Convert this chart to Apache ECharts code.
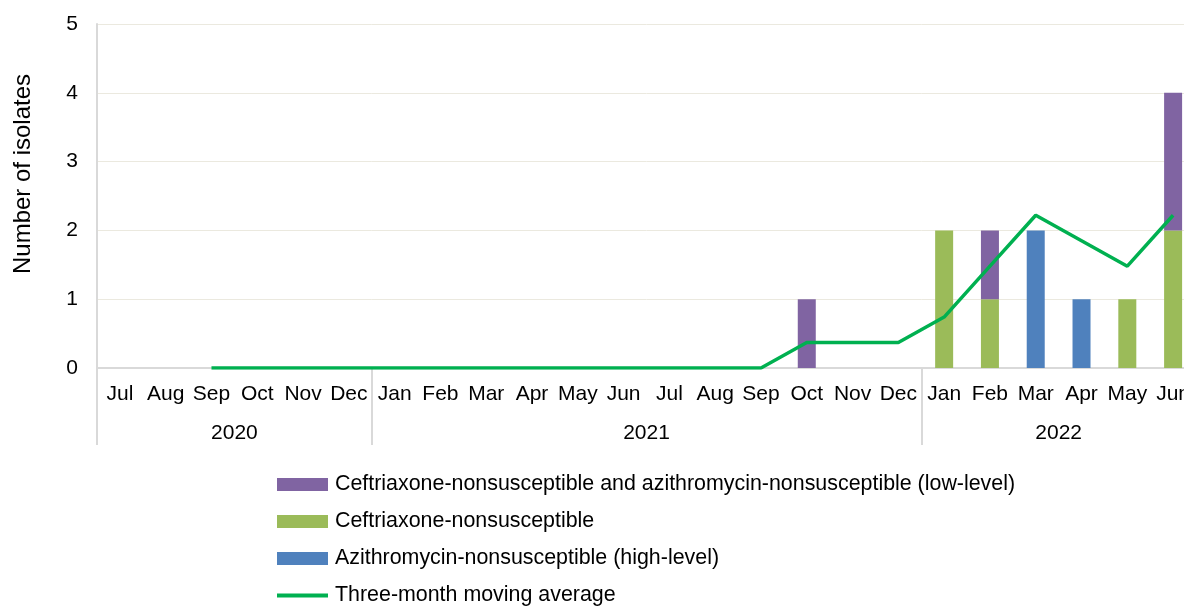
<!DOCTYPE html>
<html>
<head>
<meta charset="utf-8">
<script src="https://cdn.jsdelivr.net/npm/echarts@6/dist/echarts.min.js"></script>
<style>
html,body{margin:0;padding:0;overflow:hidden;background:#fff;}
#chart{width:1200px;height:606px;}
</style>
</head>
<body>
<div id="chart"></div>
<script>
var months = ['Jul','Aug','Sep','Oct','Nov','Dec','Jan','Feb','Mar','Apr','May','Jun','Jul','Aug','Sep','Oct','Nov','Dec','Jan','Feb','Mar','Apr','May','Jun'];
var yearLabels = ['2020','2021','2022'];
var yearLabelSlots = [3, 12, 21];
var yearBoundaries = [0, 6, 18, 24];
var bothNonsusceptible = [0,0,0,0,0,0,0,0,0,0,0,0,0,0,0,1,0,0,0,1,0,0,0,2];
var ceftriaxoneNonsusceptible = [0,0,0,0,0,0,0,0,0,0,0,0,0,0,0,0,0,0,2,1,0,0,1,2];
var azithromycinNonsusceptible = [0,0,0,0,0,0,0,0,0,0,0,0,0,0,0,0,0,0,0,0,2,1,0,0];
var movingAverage = [null,null,0,0,0,0,0,0,0,0,0,0,0,0,0,0.37,0.37,0.37,0.74,1.48,2.22,1.85,1.48,2.22];
var yTicks = [0,1,2,3,4,5];
var seriesNames = [
  'Ceftriaxone-nonsusceptible and azithromycin-nonsusceptible (low-level)',
  'Ceftriaxone-nonsusceptible',
  'Azithromycin-nonsusceptible (high-level)',
  'Three-month moving average'
];

var FONT = "'Liberation Sans', Arial, sans-serif";
var yearAxisData = [];
for (var i = 0; i <= months.length; i++) yearAxisData.push('');
yearLabelSlots.forEach(function (s, k) { yearAxisData[s] = yearLabels[k]; });

var legendCenters = [483, 520, 557, 594];
var legends = seriesNames.map(function (n, k) {
  var isLine = k === 3;
  return {
    data: [{name: n, icon: 'rect'}],
    left: 272,
    top: legendCenters[k] - 14,
    itemWidth: 51,
    itemHeight: isLine ? 4 : 13,
    itemGap: 0,
    selectedMode: false,
    textStyle: {fontFamily: FONT, fontSize: 21.4, color: '#000', padding: [0,0,0,2]}
  };
});

var chart = echarts.init(document.getElementById('chart'));
chart.setOption({
  animation: false,
  backgroundColor: '#fff',
  grid: {left: 97, right: 4, top: 24, bottom: 238},
  legend: legends,
  graphic: [{
    type: 'text',
    x: 23, y: 174,
    rotation: Math.PI / 2,
    style: {text: 'Number of isolates', font: '24px ' + FONT, fill: '#000', textAlign: 'center', textVerticalAlign: 'middle'}
  }],
  xAxis: [{
    type: 'category',
    data: months,
    boundaryGap: true,
    axisLine: {show: true, lineStyle: {color: '#d9d9d9', width: 2}},
    axisTick: {show: false},
    axisLabel: {interval: 0, margin: 16, fontFamily: FONT, fontSize: 21, color: '#000'}
  }, {
    type: 'category',
    data: yearAxisData,
    boundaryGap: false,
    position: 'bottom',
    offset: 0,
    axisLine: {show: false},
    axisTick: {show: true, length: 77, interval: function (idx) { return yearBoundaries.indexOf(idx) >= 0; }, lineStyle: {color: '#d9d9d9', width: 2}},
    axisLabel: {interval: 0, margin: 55, fontFamily: FONT, fontSize: 21, color: '#000'},
    splitLine: {show: false}
  }],
  yAxis: {
    type: 'value',
    min: yTicks[0], max: yTicks[yTicks.length - 1], interval: 1,
    axisLine: {show: true, lineStyle: {color: '#d9d9d9', width: 2}},
    axisTick: {show: false},
    axisLabel: {margin: 19, fontFamily: FONT, fontSize: 21, color: '#000'},
    splitLine: {lineStyle: {color: '#ebe9df', width: 1}}
  },
  series: [{
    name: seriesNames[1], type: 'bar', stack: 'iso', barWidth: 18,
    itemStyle: {color: '#9bbb59'}, data: ceftriaxoneNonsusceptible
  }, {
    name: seriesNames[2], type: 'bar', stack: 'iso', barWidth: 18,
    itemStyle: {color: '#4f81bd'}, data: azithromycinNonsusceptible
  }, {
    name: seriesNames[0], type: 'bar', stack: 'iso', barWidth: 18,
    itemStyle: {color: '#8064a2'}, data: bothNonsusceptible
  }, {
    name: seriesNames[3], type: 'line', symbol: 'none',
    lineStyle: {color: '#00b050', width: 3.5}, itemStyle: {color: '#00b050'},
    data: movingAverage, z: 5
  }]
});
</script>
</body>
</html>
